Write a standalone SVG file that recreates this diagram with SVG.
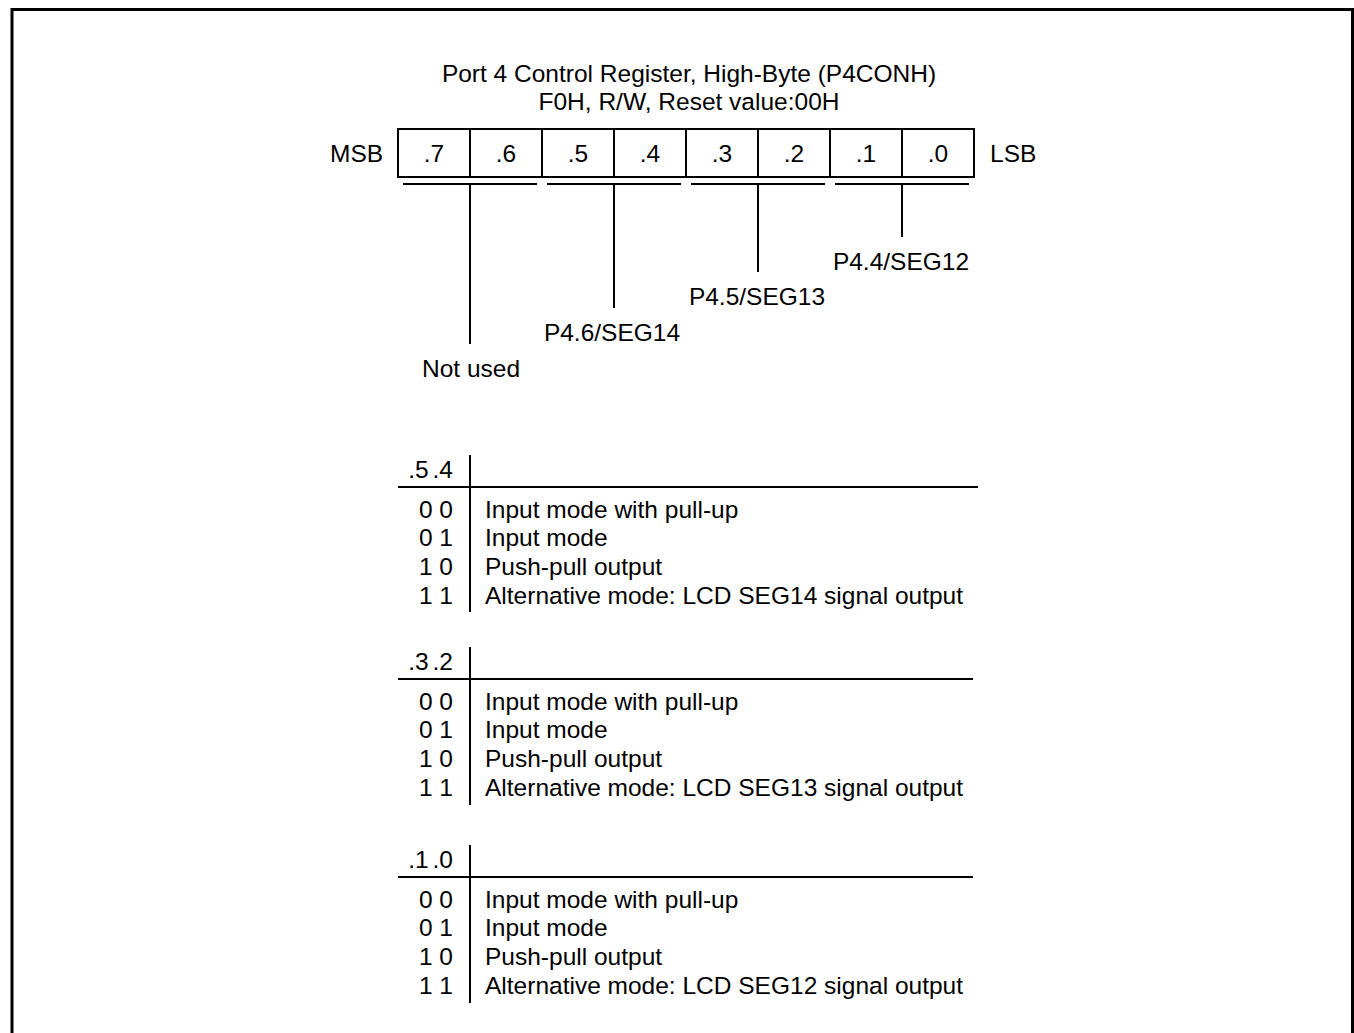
<svg xmlns="http://www.w3.org/2000/svg" width="1354" height="1033" viewBox="0 0 1354 1033">
<style>
text{font-family:"Liberation Sans",Arial,sans-serif;font-size:24.5px;fill:#000}
.m{text-anchor:middle}
.e{text-anchor:end}
.h{word-spacing:-3px}
.ln{stroke:#000;stroke-width:2;fill:none}
</style>
<rect width="1354" height="1033" fill="#fff"/>
<path d="M12,1040 V9.5 H1352.5 V1040" fill="none" stroke="#000" stroke-width="3"/>
<g id="title">
<text class="m" x="689" y="82">Port 4 Control Register, High-Byte (P4CONH)</text>
<text class="m" x="689" y="110">F0H, R/W, Reset value:00H</text>
</g>
<g id="register">
<text x="330" y="162">MSB</text>
<text x="990" y="162">LSB</text>
<rect class="ln" x="398" y="129" width="576" height="48"/>
<path class="ln" d="M470,129V177M542,129V177M614,129V177M686,129V177M758,129V177M830,129V177M902,129V177"/>
<text class="m" x="434" y="162">.7</text>
<text class="m" x="506" y="162">.6</text>
<text class="m" x="578" y="162">.5</text>
<text class="m" x="650" y="162">.4</text>
<text class="m" x="722" y="162">.3</text>
<text class="m" x="794" y="162">.2</text>
<text class="m" x="866" y="162">.1</text>
<text class="m" x="938" y="162">.0</text>
</g>
<g id="connectors">
<path class="ln" d="M403,184H537M547,184H681M691,184H825M835,184H969"/>
<path class="ln" d="M470,184V344M614,184V308M758,184V272M902,184V237"/>
</g>
<g id="labels">
<text class="m" x="471" y="377">Not used</text>
<text class="m" x="612" y="341">P4.6/SEG14</text>
<text class="m" x="757" y="305">P4.5/SEG13</text>
<text class="m" x="901" y="270">P4.4/SEG12</text>
</g>
<g id="table54">
<path class="ln" d="M470,455V612M398,487H978"/>
<text class="e h" x="453" y="478">.5 .4</text>
<text class="e" x="453" y="517.5">0 0</text>
<text class="e" x="453" y="546.3">0 1</text>
<text class="e" x="453" y="575.1">1 0</text>
<text class="e" x="453" y="603.9">1 1</text>
<text x="485" y="517.5">Input mode with pull-up</text>
<text x="485" y="546.3">Input mode</text>
<text x="485" y="575.1">Push-pull output</text>
<text x="485" y="603.9">Alternative mode: LCD SEG14 signal output</text>
</g>
<g id="table32">
<path class="ln" d="M470,647V805M398,679H973"/>
<text class="e h" x="453" y="670">.3 .2</text>
<text class="e" x="453" y="709.5">0 0</text>
<text class="e" x="453" y="738.3">0 1</text>
<text class="e" x="453" y="767.1">1 0</text>
<text class="e" x="453" y="795.9">1 1</text>
<text x="485" y="709.5">Input mode with pull-up</text>
<text x="485" y="738.3">Input mode</text>
<text x="485" y="767.1">Push-pull output</text>
<text x="485" y="795.9">Alternative mode: LCD SEG13 signal output</text>
</g>
<g id="table10">
<path class="ln" d="M470,845V1003M398,877H973"/>
<text class="e h" x="453" y="868">.1 .0</text>
<text class="e" x="453" y="907.5">0 0</text>
<text class="e" x="453" y="936.3">0 1</text>
<text class="e" x="453" y="965.1">1 0</text>
<text class="e" x="453" y="993.9">1 1</text>
<text x="485" y="907.5">Input mode with pull-up</text>
<text x="485" y="936.3">Input mode</text>
<text x="485" y="965.1">Push-pull output</text>
<text x="485" y="993.9">Alternative mode: LCD SEG12 signal output</text>
</g>
</svg>
